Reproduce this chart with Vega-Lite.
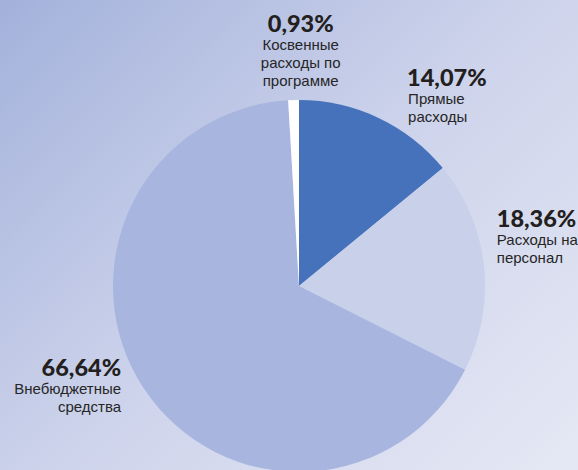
{
  "$schema": "https://vega.github.io/schema/vega-lite/v6.json",
  "width": 598,
  "height": 572,
  "autosize": {"type": "none"},
  "padding": 0,
  "background": "#c9d0ea",
  "config": {
    "view": {"stroke": null},
    "locale": {"number": {"decimal": ",", "thousands": " ", "grouping": [3], "currency": ["", ""]}}
  },
  "data": {
    "values": [
      {"ord": 1, "cat": "Прямые расходы", "share": 0.1407, "name": "Прямые\nрасходы"},
      {"ord": 2, "cat": "Расходы на персонал", "share": 0.1836, "name": "Расходы на\nперсонал"},
      {"ord": 3, "cat": "Внебюджетные средства", "share": 0.6664, "name": "Внебюджетные\nсредства"},
      {"ord": 4, "cat": "Косвенные расходы по программе", "share": 0.0093, "name": "Косвенные\nрасходы по\nпрограмме"}
    ]
  },
  "layer": [
    {
      "data": {"values": [{"bg": 1}]},
      "mark": {"type": "rect",
        "fill": {"gradient": "linear", "x1": 0, "y1": 0, "x2": 1, "y2": 1,
          "stops": [{"offset": 0, "color": "#a3b1db"}, {"offset": 0.45, "color": "#cdd3eb"}, {"offset": 0.89, "color": "#e5e8f4"}, {"offset": 1, "color": "#eceef7"}]}},
      "encoding": {}
    },
    {
      "encoding": {
        "theta": {"field": "share", "type": "quantitative", "stack": true},
        "order": {"field": "ord", "type": "quantitative"}
      },
      "layer": [
        {
          "mark": {"type": "arc", "outerRadius": 186},
          "encoding": {
            "color": {"field": "cat", "type": "nominal", "legend": null,
              "scale": {"domain": ["Прямые расходы", "Расходы на персонал", "Внебюджетные средства", "Косвенные расходы по программе"],
                        "range": ["#4572ba", "#c8d0ea", "#a8b5df", "#ffffff"]}}
          }
        },
        {
          "mark": {"type": "text", "radius": 220, "align": "left", "baseline": "alphabetic", "dx": 14, "dy": -1, "font": "Lato", "fontWeight": 900, "fontSize": 23.5, "color": "#231f20"},
          "encoding": {"text": {"condition": {"test": "datum.ord == 1", "field": "share", "type": "quantitative", "format": ".2%"}, "value": ""}}
        },
        {
          "mark": {"type": "text", "radius": 220, "align": "left", "baseline": "alphabetic", "dx": 15, "dy": 17, "font": "Liberation Sans", "fontSize": 15, "lineHeight": 18, "lineBreak": "\n", "color": "#262626"},
          "encoding": {"text": {"condition": {"test": "datum.ord == 1", "field": "name", "type": "nominal"}, "value": ""}}
        },
        {
          "mark": {"type": "text", "radius": 200, "align": "left", "baseline": "alphabetic", "dx": -1, "dy": -37, "font": "Lato", "fontWeight": 900, "fontSize": 23.5, "color": "#231f20"},
          "encoding": {"text": {"condition": {"test": "datum.ord == 2", "field": "share", "type": "quantitative", "format": ".2%"}, "value": ""}}
        },
        {
          "mark": {"type": "text", "radius": 200, "align": "left", "baseline": "alphabetic", "dx": -1, "dy": -19, "font": "Liberation Sans", "fontSize": 15, "lineHeight": 18, "lineBreak": "\n", "color": "#262626"},
          "encoding": {"text": {"condition": {"test": "datum.ord == 2", "field": "name", "type": "nominal"}, "value": ""}}
        },
        {
          "mark": {"type": "text", "radius": 220, "align": "right", "baseline": "alphabetic", "dx": 6, "dy": -31, "font": "Lato", "fontWeight": 900, "fontSize": 23.5, "color": "#231f20"},
          "encoding": {"text": {"condition": {"test": "datum.ord == 3", "field": "share", "type": "quantitative", "format": ".2%"}, "value": ""}}
        },
        {
          "mark": {"type": "text", "radius": 220, "align": "right", "baseline": "alphabetic", "dx": 6, "dy": -13, "font": "Liberation Sans", "fontSize": 15, "lineHeight": 18, "lineBreak": "\n", "color": "#262626"},
          "encoding": {"text": {"condition": {"test": "datum.ord == 3", "field": "name", "type": "nominal"}, "value": ""}}
        },
        {
          "mark": {"type": "text", "radius": 250, "align": "center", "baseline": "alphabetic", "dx": 9, "dy": -4, "font": "Lato", "fontWeight": 900, "fontSize": 23.5, "color": "#231f20"},
          "encoding": {"text": {"condition": {"test": "datum.ord == 4", "field": "share", "type": "quantitative", "format": ".2%"}, "value": ""}}
        },
        {
          "mark": {"type": "text", "radius": 250, "align": "center", "baseline": "alphabetic", "dx": 9, "dy": 14, "font": "Liberation Sans", "fontSize": 15, "lineHeight": 18, "lineBreak": "\n", "color": "#262626"},
          "encoding": {"text": {"condition": {"test": "datum.ord == 4", "field": "name", "type": "nominal"}, "value": ""}}
        }
      ]
    }
  ]
}
